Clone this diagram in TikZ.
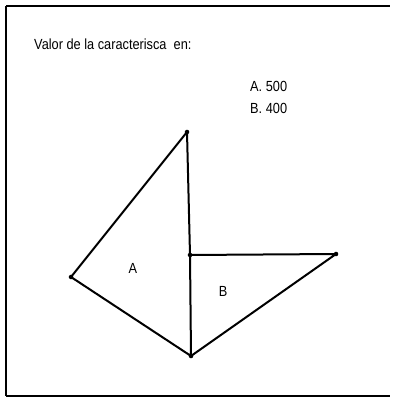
\documentclass[tikz,border=0pt]{standalone}
\usepackage{fontspec}
\setmainfont{Liberation Sans}
\usepackage{tikz}
\usetikzlibrary{positioning,calc}

\tikzset{
    edge/.style={line width=1.5pt, line cap=round, line join=round},
    rim/.style={line width=2pt},
    vdot/.style={circle, fill=black, inner sep=0pt, minimum size=3.4pt},
    lbl/.style={font=\fontsize{11}{13}\selectfont, inner sep=0pt, xscale=0.87, transform shape}
}

\begin{document}
\begin{tikzpicture}[x=0.75pt, y=-0.75pt]
    \useasboundingbox (0,0) rectangle (394,398);
    % open frame (no right side)
    \coordinate (f1) at (6,6);
    \coordinate (f2) at (390,6);
    \coordinate (f3) at (6,396);
    \coordinate (f4) at (390,396);
    \draw[rim] (f1) -- (f2);
    \draw[rim] (f1) -- (f3);
    \draw[rim] (f3) -- (f4);
    \node[lbl, anchor=west] (title) at (34,44) {Valor de la caracterisca\ \ en:};
    \node[lbl, anchor=west] (va) at (250,86) {A. 500};
    \node[lbl, anchor=west] (vb) at (250,108) {B. 400};
    % vertices
    \node[vdot] (T) at (187,132) {};
    \node[vdot] (M) at (190,255) {};
    \node[vdot] (R) at (336,254) {};
    \node[vdot] (L) at (71,277) {};
    \node[vdot] (Bt) at (191,356) {};
    \draw[edge] (L.center) -- (T.center) -- (M.center) -- (Bt.center) -- cycle;
    \draw[edge] (M.center) -- (R.center) -- (Bt.center);
    \node[lbl] (ra) at (133,268) {A};
    \node[lbl] (rb) at (223,291) {B};
\end{tikzpicture}
\end{document}
